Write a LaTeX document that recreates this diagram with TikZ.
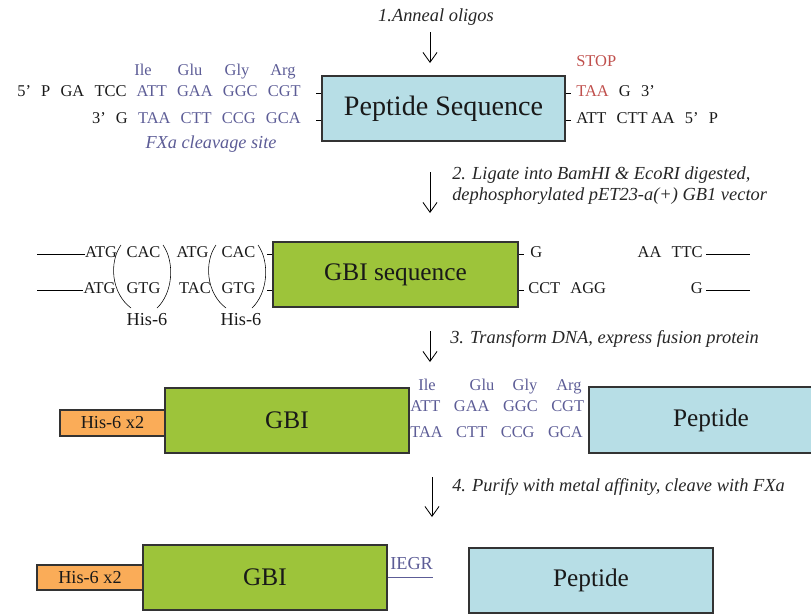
\documentclass[tikz,border=0pt]{standalone}
\usepackage{fontspec}
\setmainfont{Liberation Serif}
\usetikzlibrary{arrows.meta}

\definecolor{aacol}{RGB}{92,92,150}
\definecolor{stopred}{RGB}{192,80,77}
\definecolor{pepblue}{RGB}{183,222,230}
\definecolor{gbigreen}{RGB}{157,196,58}
\definecolor{hisorange}{RGB}{250,172,88}

\newcommand\seqfont{\fontsize{11.7}{14}\selectfont\spaceskip=0.62em\relax}
\newcommand\wideseqfont{\fontsize{11.7}{14}\selectfont\spaceskip=0.82em\relax}
\newcommand\labfont{\fontsize{13}{15}\selectfont}
\newcommand\bigfont{\fontsize{18}{22}\selectfont}
\newcommand\hugefont{\fontsize{20}{24}\selectfont}
\newcommand\stepfont{\fontsize{13.1}{15}\selectfont\itshape}

\tikzset{
  boxed/.style={draw=black!80, line width=0.9pt, inner sep=0pt, font=\bigfont, text=black!90},
  bluebox/.style={boxed, fill=pepblue},
  greenbox/.style={boxed, fill=gbigreen},
  orangebox/.style={boxed, fill=hisorange, font=\labfont},
  seq/.style={font=\seqfont, inner sep=0pt, text=black!90},
  aa/.style={seq, text=aacol},
  steptext/.style={font=\stepfont, align=left, inner sep=0pt, text=black!85},
  steparrow/.style={->, >={Straight Barb[length=7pt,width=10pt]}, line width=0.6pt},
}

\begin{document}
\begin{tikzpicture}[x=0.25mm, y=-0.25mm]
\useasboundingbox (0,0) rectangle (811,615);

% 1. anneal
\node[steptext, anchor=mid] (anneal) at (436,18) {1.Anneal oligos};
\coordinate (a1) at (430,32);
\coordinate (b1) at (430,63);
\draw[steparrow] (a1) -- (b1);

\node[bluebox, font=\hugefont, minimum width=60.75mm, minimum height=16.25mm] (pepseq) at (443.5,108.5) {Peptide Sequence};
\node[aa, anchor=mid] (ileA) at (143,72) {Ile};
\node[aa, anchor=mid] (gluA) at (190,72) {Glu};
\node[aa, anchor=mid] (glyA) at (237,72) {Gly};
\node[aa, anchor=mid] (argA) at (283,72) {Arg};
\node[seq, anchor=mid east] (top5) at (301,93) {5' P GA TCC \textcolor{aacol}{ATT GAA GGC CGT}};
\node[seq, anchor=mid east] (bot3) at (301,120) {3' G \textcolor{aacol}{TAA CTT CCG GCA}};
\node[aa, font=\labfont\itshape, anchor=mid] (fxa) at (211,145) {FXa cleavage site};
\draw (top5.mid east -| pepseq.west) -- ++(-5,0);
\draw (bot3.mid east -| pepseq.west) -- ++(-5,0);

\node[seq, text=stopred, anchor=mid west] (stop) at (576,63) {STOP};
\node[seq, anchor=mid west] (top3) at (576,93) {\textcolor{stopred}{TAA} G 3'};
\node[seq, anchor=mid west] (bot5) at (576,120) {ATT CTT\kern0.2em AA 5' P};
\draw (top3.mid west -| pepseq.east) -- ++(5,0);
\draw (bot5.mid west -| pepseq.east) -- ++(5,0);

% 2. ligate
\node[steptext, anchor=west] (ligate) at (452,186) {2. Ligate into BamHI \& EcoRI digested,\\dephosphorylated pET23-a(+) GB1 vector};
\coordinate (a2) at (430,172);
\coordinate (b2) at (430,213);
\draw[steparrow] (a2) -- (b2);

\node[greenbox, minimum width=61.25mm, minimum height=16.25mm] (gbiseq) at (395.5,274.5) {GBI sequence};
\coordinate (lt) at (37,254);
\coordinate (lb) at (37,290);
\node[seq, anchor=mid] (atgA) at (101,254) {ATG};
\node[seq, anchor=mid] (cacA) at (143.5,254) {CAC};
\node[seq, anchor=mid] (atgB) at (192.5,254) {ATG};
\node[seq, anchor=mid] (cacB) at (238.5,254) {CAC};
\node[seq, anchor=mid] (atgC) at (99.5,290) {ATG};
\node[seq, anchor=mid] (gtgA) at (143.5,290) {GTG};
\node[seq, anchor=mid] (tacA) at (195,290) {TAC};
\node[seq, anchor=mid] (gtgB) at (238.5,290) {GTG};
\draw (lt) -- (atgA.mid west);
\draw (lb) -- (atgC.mid west);
\draw (121,245) .. controls (109,262) and (111,293) .. (131,308);
\draw (163,245) .. controls (175,262) and (173,293) .. (157,308);
\draw (216,245) .. controls (204,262) and (206,293) .. (226,308);
\draw (258,245) .. controls (270,262) and (268,293) .. (252,308);
\node[seq, font=\labfont, anchor=mid] (hisA) at (147,322) {His-6};
\node[seq, font=\labfont, anchor=mid] (hisB) at (241,322) {His-6};
\draw (cacB.mid east -| gbiseq.west) -- ++(-5,0);
\draw (gtgB.mid east -| gbiseq.west) -- ++(-5,0);

\node[seq, anchor=mid west] (gR) at (530,254) {G};
\node[seq, anchor=mid west] (cctagg) at (528,290) {CCT AGG};
\node[seq, anchor=mid east] (aattc) at (703,254) {AA TTC};
\node[seq, anchor=mid east] (gE) at (703,290) {G};
\coordinate (rt) at (750,254);
\coordinate (rb) at (750,290);
\draw (gR.mid west -| gbiseq.east) -- ++(5,0);
\draw (cctagg.mid west -| gbiseq.east) -- ++(5,0);
\draw (aattc.mid east) ++(3,0) -- (rt);
\draw (gE.mid east) ++(3,0) -- (rb);

% 3. transform
\node[steptext, anchor=mid west] (transform) at (450,340) {3. Transform DNA, express fusion protein};
\coordinate (a3) at (430,331);
\coordinate (b3) at (430,362);
\draw[steparrow] (a3) -- (b3);

\node[orangebox, minimum width=26.25mm, minimum height=6.5mm] (hisC) at (112.5,423) {His-6 x2};
\node[greenbox, minimum width=61mm, minimum height=16.25mm] (gbiA) at (287,420.5) {GBI};
\node[bluebox, minimum width=61mm, minimum height=16.5mm] (pepA) at (711,420) {Peptide};
\node[aa, anchor=mid] (ileB) at (427,387) {Ile};
\node[aa, anchor=mid] (gluB) at (482,387) {Glu};
\node[aa, anchor=mid] (glyB) at (525,387) {Gly};
\node[aa, anchor=mid] (argB) at (569,387) {Arg};
\node[aa, font=\wideseqfont, anchor=mid west] (topC) at (410,408) {ATT GAA GGC CGT};
\node[aa, font=\wideseqfont, anchor=mid west] (botC) at (410,434) {TAA CTT CCG GCA};

% 4. purify
\node[steptext, anchor=mid west] (purify) at (452,488) {4. Purify with metal affinity, cleave with FXa};
\coordinate (a4) at (432,477);
\coordinate (b4) at (432,517);
\draw[steparrow] (a4) -- (b4);

\node[orangebox, minimum width=26.5mm, minimum height=6.25mm] (hisD) at (90,577.5) {His-6 x2};
\node[greenbox, minimum width=61mm, minimum height=16.25mm] (gbiB) at (265,577.5) {GBI};
\node[aa, font=\labfont, anchor=mid west] (iegr) at (390,566) {IEGR};
\coordinate (iegrend) at (433,577);
\draw[aacol] (iegrend -| gbiB.east) -- (iegrend);
\node[bluebox, minimum width=61mm, minimum height=16.25mm] (pepB) at (591,580.5) {Peptide};
\end{tikzpicture}
\end{document}
